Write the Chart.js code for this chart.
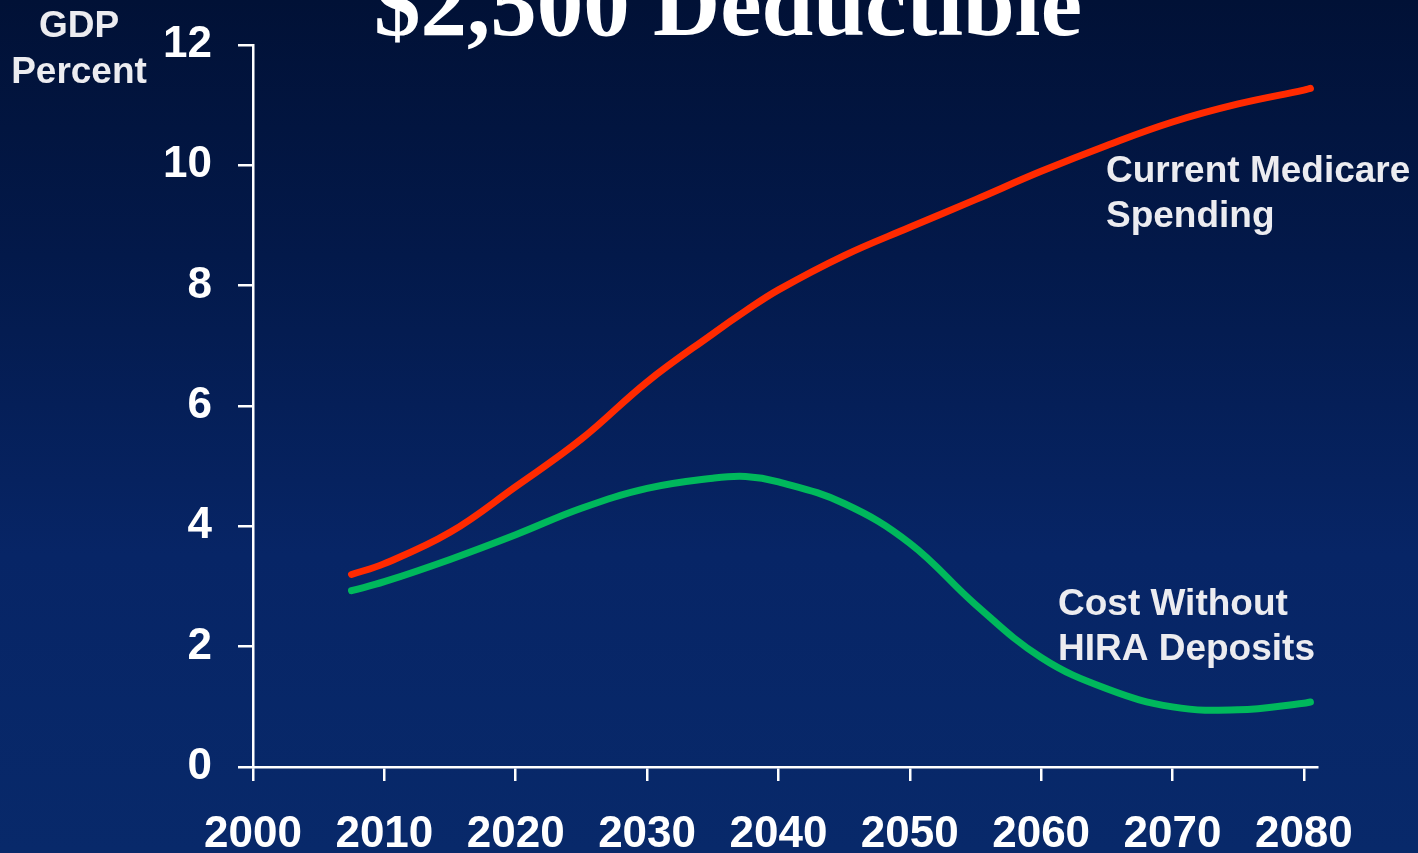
<!DOCTYPE html>
<html>
<head>
<meta charset="utf-8">
<script src="https://cdn.jsdelivr.net/npm/chart.js@4"></script>
<style>
  html, body { margin: 0; padding: 0; }
  body {
    width: 1418px; height: 853px; overflow: hidden;
    background: linear-gradient(to bottom, #011136 0%, #03194a 30%, #072566 65%, #08296a 100%);
  }
  #wrap { position: relative; width: 1418px; height: 853px; }
</style>
</head>
<body>
<div id="wrap"><canvas id="gdpChart" width="1418" height="853"></canvas></div>
<script>
// values (percent of GDP)
const years = [2007.5, 2010, 2015, 2020, 2025, 2030, 2035, 2037.5, 2040, 2045, 2050, 2055, 2060, 2065, 2070, 2075, 2080, 2080.5];
const medicareSpending = [3.2, 3.38, 3.9, 4.66, 5.45, 6.4, 7.2, 7.58, 7.93, 8.5, 8.97, 9.43, 9.9, 10.33, 10.72, 11.02, 11.25, 11.28];
const costWithoutHira = [2.93, 3.08, 3.45, 3.86, 4.3, 4.63, 4.8, 4.83, 4.74, 4.38, 3.72, 2.7, 1.82, 1.3, 1.0, 0.95, 1.06, 1.08];
const xTickLabels = [2000, 2010, 2020, 2030, 2040, 2050, 2060, 2070, 2080];
const yTickLabels = [0, 2, 4, 6, 8, 10, 12];

const labelFont = "bold 37px 'Liberation Sans', Arial, sans-serif";

// title (cut off at the top like the slide) and the text labels
const slideText = {
  id: 'slideText',
  afterDraw(chart) {
    const ctx = chart.ctx;
    ctx.save();
    ctx.fillStyle = '#ffffff';
    ctx.font = "bold 93px 'Liberation Serif', 'Times New Roman', serif";
    ctx.textAlign = 'center';
    ctx.textBaseline = 'alphabetic';
    ctx.fillText('$2,500 Deductible', 728, 35);

    ctx.fillStyle = '#ececf0';
    ctx.font = "bold 37px 'Liberation Sans', Arial, sans-serif";
    ctx.textBaseline = 'middle';
    ctx.fillText('GDP', 79, 27);
    ctx.fillText('Percent', 79, 73);

    ctx.font = labelFont;
    ctx.textAlign = 'left';
    ctx.fillText('Current Medicare', 1106, 172);
    ctx.fillText('Spending', 1106, 217);
    ctx.fillText('Cost Without', 1058, 605);
    ctx.fillText('HIRA Deposits', 1058, 650);
    ctx.restore();
  }
};

const ctx = document.getElementById('gdpChart').getContext('2d');
new Chart(ctx, {
  type: 'line',
  data: {
    datasets: [
      {
        label: 'Current Medicare Spending',
        data: years.map((y, i) => ({ x: y, y: medicareSpending[i] })),
        borderColor: '#ff2a00',
        borderWidth: 7,
        borderCapStyle: 'round',
        pointRadius: 0,
        tension: 0.4,
        fill: false
      },
      {
        label: 'Cost Without HIRA Deposits',
        data: years.map((y, i) => ({ x: y, y: costWithoutHira[i] })),
        borderColor: '#00b85c',
        borderWidth: 7,
        borderCapStyle: 'round',
        pointRadius: 0,
        tension: 0.4,
        fill: false
      }
    ]
  },
  options: {
    responsive: false,
    animation: false,
    devicePixelRatio: 1,
    layout: { padding: { top: 45, right: 101, left: 0, bottom: 0 } },
    plugins: {
      legend: { display: false },
      tooltip: { enabled: false }
    },
    scales: {
      x: {
        type: 'linear',
        min: 2000,
        max: 2081,
        afterBuildTicks: s => { s.ticks = xTickLabels.map(v => ({ value: v })); },
        afterFit: s => { s.height = 86; s.paddingLeft = 0; s.paddingRight = 0; },
        grid: { drawOnChartArea: false, color: '#ffffff', lineWidth: 2.5, tickLength: 14 },
        border: { color: '#ffffff', width: 2.5 },
        ticks: {
          color: '#ffffff',
          font: { family: "'Liberation Sans', Arial, sans-serif", size: 44, weight: 'bold' },
          padding: 27,
          maxRotation: 0,
          callback: v => String(v)
        }
      },
      y: {
        min: 0,
        max: 12,
        afterBuildTicks: s => { s.ticks = yTickLabels.map(v => ({ value: v })); },
        afterFit: s => { s.width = 253; s.paddingTop = 0; s.paddingBottom = 0; },
        grid: { drawOnChartArea: false, color: '#ffffff', lineWidth: 2.5, tickLength: 15 },
        border: { color: '#ffffff', width: 2.5 },
        ticks: {
          color: '#ffffff',
          font: { family: "'Liberation Sans', Arial, sans-serif", size: 44, weight: 'bold' },
          padding: 26,
          callback: v => String(v)
        }
      }
    }
  },
  plugins: [slideText]
});
</script>
</body>
</html>
